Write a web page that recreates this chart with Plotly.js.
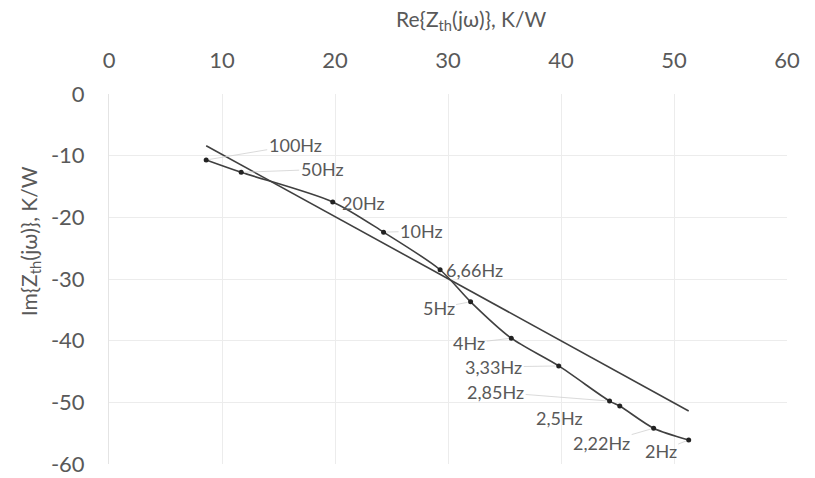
<!DOCTYPE html>
<html>
<head>
<meta charset="utf-8">
<script src="https://cdn.plot.ly/plotly-3.0.1.min.js"></script>
<style>html,body{margin:0;padding:0;background:#fff;}#chart{width:815px;height:478px;}</style>
</head>
<body>
<div id="chart"></div>
<script>
// Measured Nyquist points (Re, Im) and their frequency labels
var freqLabels = ["100Hz","50Hz","20Hz","10Hz","6,66Hz","5Hz","4Hz","3,33Hz","2,85Hz","2,5Hz","2,22Hz","2Hz"];
var reValues = [8.6, 11.7, 19.8, 24.3, 29.3, 32.0, 35.6, 39.8, 44.3, 45.2, 48.2, 51.3];
var imValues = [-10.7, -12.7, -17.5, -22.4, -28.5, -33.7, -39.6, -44.1, -49.8, -50.6, -54.2, -56.1];
// Straight reference line
var lineRe = [8.6, 51.3];
var lineIm = [-8.4, -51.4];
// Label offsets (pixels) for each frequency label
var labelAx = [89, 81, 31, 38, 34, -32, -42, -65, -114, -60, -52, -28];
var labelAy = [-15, -3, 1, -1, 0, 6, 5, 1, -9, 12, 15, 11];
var labelLeader = [true, true, false, true, false, true, true, true, true, false, true, true];

var xTicks = [0, 10, 20, 30, 40, 50, 60];
var yTicks = [0, -10, -20, -30, -40, -50, -60];
var xTitle = 'Re{Z<sub>th</sub>(jω)}, K/W';
var yTitle = 'Im{Z<sub>th</sub>(jω)}, K/W';

var traces = [
  {x: reValues, y: imValues, mode: 'lines+markers', type: 'scatter',
   line: {color: '#404040', width: 1.6, shape: 'spline', smoothing: 0.8},
   marker: {color: '#222222', size: 5}, hoverinfo: 'skip'},
  {x: lineRe, y: lineIm, mode: 'lines', type: 'scatter',
   line: {color: '#404040', width: 1.6}, hoverinfo: 'skip'}
];

var annotations = freqLabels.map(function (t, i) {
  return {x: reValues[i], y: imValues[i], xref: 'x', yref: 'y', text: t,
    showarrow: true, arrowhead: 0, arrowwidth: 0.8,
    arrowcolor: labelLeader[i] ? '#d0d0d0' : 'rgba(0,0,0,0)',
    ax: labelAx[i], ay: labelAy[i], standoff: 3,
    font: {family: 'Lato, sans-serif', size: 18, color: '#595959'}};
});
// Axis titles (placed as in the reference, slightly off-centre)
annotations.push({text: xTitle, xref: 'paper', yref: 'paper', x: 0.535, y: 1, yshift: 74,
  xanchor: 'center', yanchor: 'middle', showarrow: false,
  font: {family: 'Lato, sans-serif', size: 21, color: '#595959'}});
annotations.push({text: yTitle, xref: 'paper', yref: 'paper', x: 0, xshift: -79, y: 0.602,
  xanchor: 'center', yanchor: 'middle', showarrow: false, textangle: -90,
  font: {family: 'Lato, sans-serif', size: 21, color: '#595959'}});

var layout = {
  width: 815, height: 478,
  margin: {l: 109, r: 28, t: 94, b: 14, pad: 0},
  paper_bgcolor: '#ffffff', plot_bgcolor: '#ffffff',
  showlegend: false,
  font: {family: 'Lato, sans-serif', color: '#595959'},
  xaxis: {
    side: 'top', range: [0, 60], tickvals: xTicks, ticktext: xTicks.map(String),
    showgrid: true, gridcolor: '#ececec', gridwidth: 1, zeroline: false,
    showline: false, ticks: '', tickfont: {size: 22, color: '#595959'},
    ticklabelstandoff: 21, automargin: false
  },
  yaxis: {
    range: [-60, 0], tickvals: yTicks, ticktext: yTicks.map(String),
    showgrid: true, gridcolor: '#ececec', gridwidth: 1, zeroline: false,
    showline: true, linecolor: '#e4e4e4', ticks: '', tickfont: {size: 22, color: '#595959'},
    ticklabelstandoff: 19, automargin: false
  },
  annotations: annotations
};

Plotly.newPlot('chart', traces, layout, {displayModeBar: false, staticPlot: true});
</script>
</body>
</html>
